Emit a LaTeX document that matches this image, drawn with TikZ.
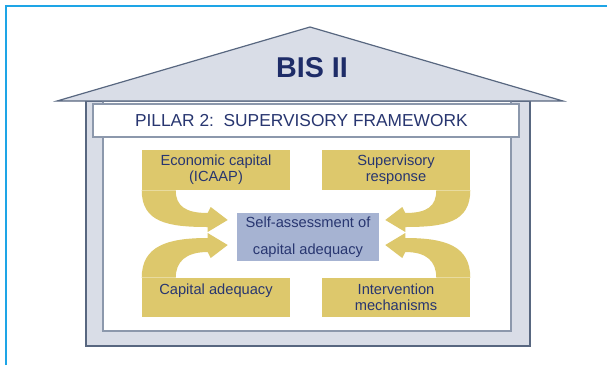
\documentclass[tikz,border=0pt]{standalone}
\usepackage{fontspec}
\setmainfont{Liberation Sans}
\usetikzlibrary{positioning,calc}

\definecolor{housefill}{RGB}{217,221,231}
\definecolor{houseline}{RGB}{88,103,128}
\definecolor{wallline}{RGB}{140,152,172}
\definecolor{boxyellow}{RGB}{221,200,108}
\definecolor{boxblue}{RGB}{166,179,210}
\definecolor{navytext}{RGB}{40,54,112}
\definecolor{bisblue}{RGB}{30,44,104}
\definecolor{framecol}{RGB}{30,165,230}

% fat curved arrow: #1 box corner, #2 tip, #3 x-direction, #4 y-direction
\newcommand{\fatarrow}[4]{%
  \fill[boxyellow] (#2) -- ($(#2)+({-17*(#3)},{-13*(#4)})$) -- ($(#2)+({-20*(#3)},{-7*(#4)})$)
    .. controls +({-22*(#3)},0) and +(0,{16*(#4)}) .. ($(#1)+({34*(#3)},0)$)
    -- (#1) .. controls +(0,{32*(#4)}) and +({-40*(#3)},0) .. ($(#2)+({-20*(#3)},{7*(#4)})$)
    -- ($(#2)+({-20*(#3)},{12*(#4)})$) -- cycle;}

\begin{document}
\begin{tikzpicture}[x=0.75pt,y=-0.75pt,
    yellowbox/.style={fill=boxyellow, minimum width=111pt, minimum height=30pt, inner sep=0pt,
      text=navytext, align=center, font=\fontsize{11}{12}\selectfont},
    bluebox/.style={fill=boxblue, minimum width=106.5pt, minimum height=36pt, inner sep=0pt,
      text=navytext, align=center, font=\fontsize{11}{20}\selectfont}]
  \useasboundingbox (0,0) rectangle (607,365);
  \draw[framecol, line width=1pt] (6,365) -- (6,6) -- (607,6);

  % house
  \draw[fill=housefill, draw=houseline, line width=1.1pt] (86,101) rectangle (530,346);
  \draw[fill=white, draw=wallline, line width=0.8pt] (103,101) rectangle (511,331);
  \draw[fill=housefill, draw=houseline, line width=0.9pt] (57,101) -- (310,27) -- (563,101) -- cycle;
  \node[text=bisblue, font=\fontsize{21.5}{24}\selectfont\bfseries] (bis) at (312,67.5) {BIS II};
  \node[draw=wallline, fill=white, line width=0.8pt, minimum width=319.5pt, minimum height=24.75pt,
    text=navytext, font=\fontsize{13}{15}\selectfont] (pillar) at (306,120.5) {PILLAR 2:\ \ SUPERVISORY FRAMEWORK\hspace*{7pt}};

  % boxes
  \node[yellowbox] (eco) at (216,170) {Economic capital\\(ICAAP)};
  \node[yellowbox] (sup) at (396,170) {Supervisory\\response};
  \node[yellowbox, minimum height=29.25pt] (cap) at (216,297.5) {Capital adequacy\\\mbox{}};
  \node[yellowbox, minimum height=29.25pt] (int) at (396,297.5) {Intervention\\mechanisms};
  \node[bluebox] (self) at (308,237) {Self-assessment of\\capital adequacy};

  % arrows
  \coordinate (tipeco) at ($(self.west)+(-9,-17)$);
  \coordinate (tipcap) at ($(self.west)+(-9,8)$);
  \coordinate (tipsup) at ($(self.east)+(6,-17)$);
  \coordinate (tipint) at ($(self.east)+(6,8)$);
  \fatarrow{eco.south west}{tipeco}{1}{1}
  \fatarrow{cap.north west}{tipcap}{1}{-1}
  \fatarrow{sup.south east}{tipsup}{-1}{1}
  \fatarrow{int.north east}{tipint}{-1}{-1}
\end{tikzpicture}
\end{document}
